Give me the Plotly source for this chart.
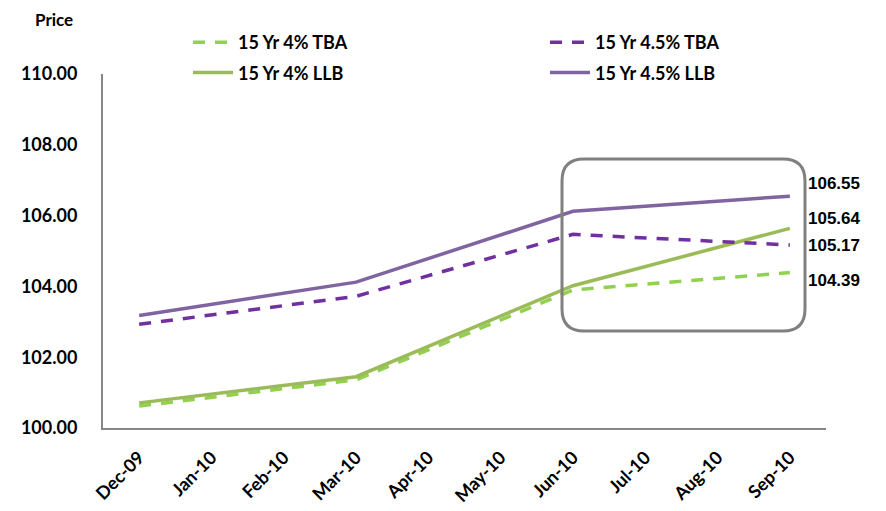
import plotly.graph_objects as go

months = ["Dec-09", "Jan-10", "Feb-10", "Mar-10", "Apr-10", "May-10",
          "Jun-10", "Jul-10", "Aug-10", "Sep-10"]
tba_4 = [100.62, None, None, 101.36, None, None, 103.90, None, None, 104.39]
tba_45 = [102.93, None, None, 103.72, None, None, 105.47, None, None, 105.17]
llb_4 = [100.71, None, None, 101.45, None, None, 104.02, None, None, 105.64]
llb_45 = [103.18, None, None, 104.12, None, None, 106.12, None, None, 106.55]
yticks = [100, 102, 104, 106, 108, 110]

FONT = "Lato"
fig = go.Figure()
fig.add_trace(go.Scatter(x=months, y=tba_4, name="15 Yr 4% TBA", mode="lines",
                         connectgaps=True, legend="legend", legendgroup="a",
                         line=dict(color="#92D050", width=3.5, dash="12px,10px")))
fig.add_trace(go.Scatter(x=months, y=llb_4, name="15 Yr 4% LLB", mode="lines",
                         connectgaps=True, legend="legend", legendgroup="b",
                         line=dict(color="#9BBB59", width=3.5)))
fig.add_trace(go.Scatter(x=months, y=tba_45, name="15 Yr 4.5% TBA", mode="lines",
                         connectgaps=True, legend="legend2", legendgroup="c",
                         line=dict(color="#7030A0", width=3.5, dash="12px,10px")))
fig.add_trace(go.Scatter(x=months, y=llb_45, name="15 Yr 4.5% LLB", mode="lines",
                         connectgaps=True, legend="legend2", legendgroup="d",
                         line=dict(color="#8064A2", width=3.5)))

H = 511
top, bottom, left, right = 74, 428, 103, 826
W = right - left
def px(xp):
    return (xp - left) / W
def py_(yp):
    return (bottom - yp) / (bottom - top)

# end labels
label_y = [(llb_45[-1], 183), (llb_4[-1], 219), (tba_45[-1], 245), (tba_4[-1], 280)]
for val, p in label_y:
    fig.add_annotation(text="<b>%.2f</b>" % val, xref="paper", yref="paper",
                       x=px(806), xanchor="left",
                       y=py_(p), yanchor="middle",
                       showarrow=False,
                       font=dict(family="Liberation Sans", size=17, color="#000000"))

fig.add_annotation(text="<b>Price</b>", xref="paper", yref="paper",
                   x=px(33), xanchor="left",
                   y=py_(20), yanchor="middle",
                   showarrow=False,
                   font=dict(family=FONT, size=17, color="#000000"))

# rounded highlight box (pixel -> paper)
x0, x1, y0, y1, r = 562, 805, 159, 331, 22
path = (f"M {px(x0+r)},{py_(y0)} L {px(x1-r)},{py_(y0)} "
        f"Q {px(x1)},{py_(y0)} {px(x1)},{py_(y0+r)} "
        f"L {px(x1)},{py_(y1-r)} Q {px(x1)},{py_(y1)} {px(x1-r)},{py_(y1)} "
        f"L {px(x0+r)},{py_(y1)} Q {px(x0)},{py_(y1)} {px(x0)},{py_(y1-r)} "
        f"L {px(x0)},{py_(y0+r)} Q {px(x0)},{py_(y0)} {px(x0+r)},{py_(y0)} Z")
fig.add_shape(type="path", path=path, xref="paper", yref="paper",
              line=dict(color="#808080", width=3))

legfont = dict(family=FONT, size=18, color="#000000", weight="bold")
fig.update_layout(
    width=886, height=511,
    margin=dict(l=left, r=886 - right, t=top, b=H - bottom),
    plot_bgcolor="white", paper_bgcolor="white",
    font=dict(family=FONT, size=16, color="#000000"),
    showlegend=True,
    legend=dict(x=px(188), xanchor="left", y=py_(24), yanchor="top",
                font=legfont, tracegroupgap=4, itemwidth=40,
                bgcolor="rgba(0,0,0,0)"),
    legend2=dict(x=px(545), xanchor="left", y=py_(24), yanchor="top",
                 font=legfont, tracegroupgap=4, itemwidth=40,
                 bgcolor="rgba(0,0,0,0)"),
    xaxis=dict(type="category", range=[-0.5, 9.5], showgrid=False, showline=True,
               linecolor="#868686", linewidth=2, ticks="", automargin=False,
               tickangle=-45, ticklabelstandoff=10,
               tickfont=dict(family=FONT, size=18, color="#000000", weight="bold")),
    yaxis=dict(range=[100, 110], tickvals=yticks,
               ticktext=["%.2f" % v for v in yticks],
               showgrid=False, zeroline=False, showline=True, automargin=False,
               linecolor="#868686", linewidth=2, ticks="",
               ticklabelstandoff=20,
               tickfont=dict(family=FONT, size=18, color="#000000", weight="bold")),
)
fig.write_html("out.html")
